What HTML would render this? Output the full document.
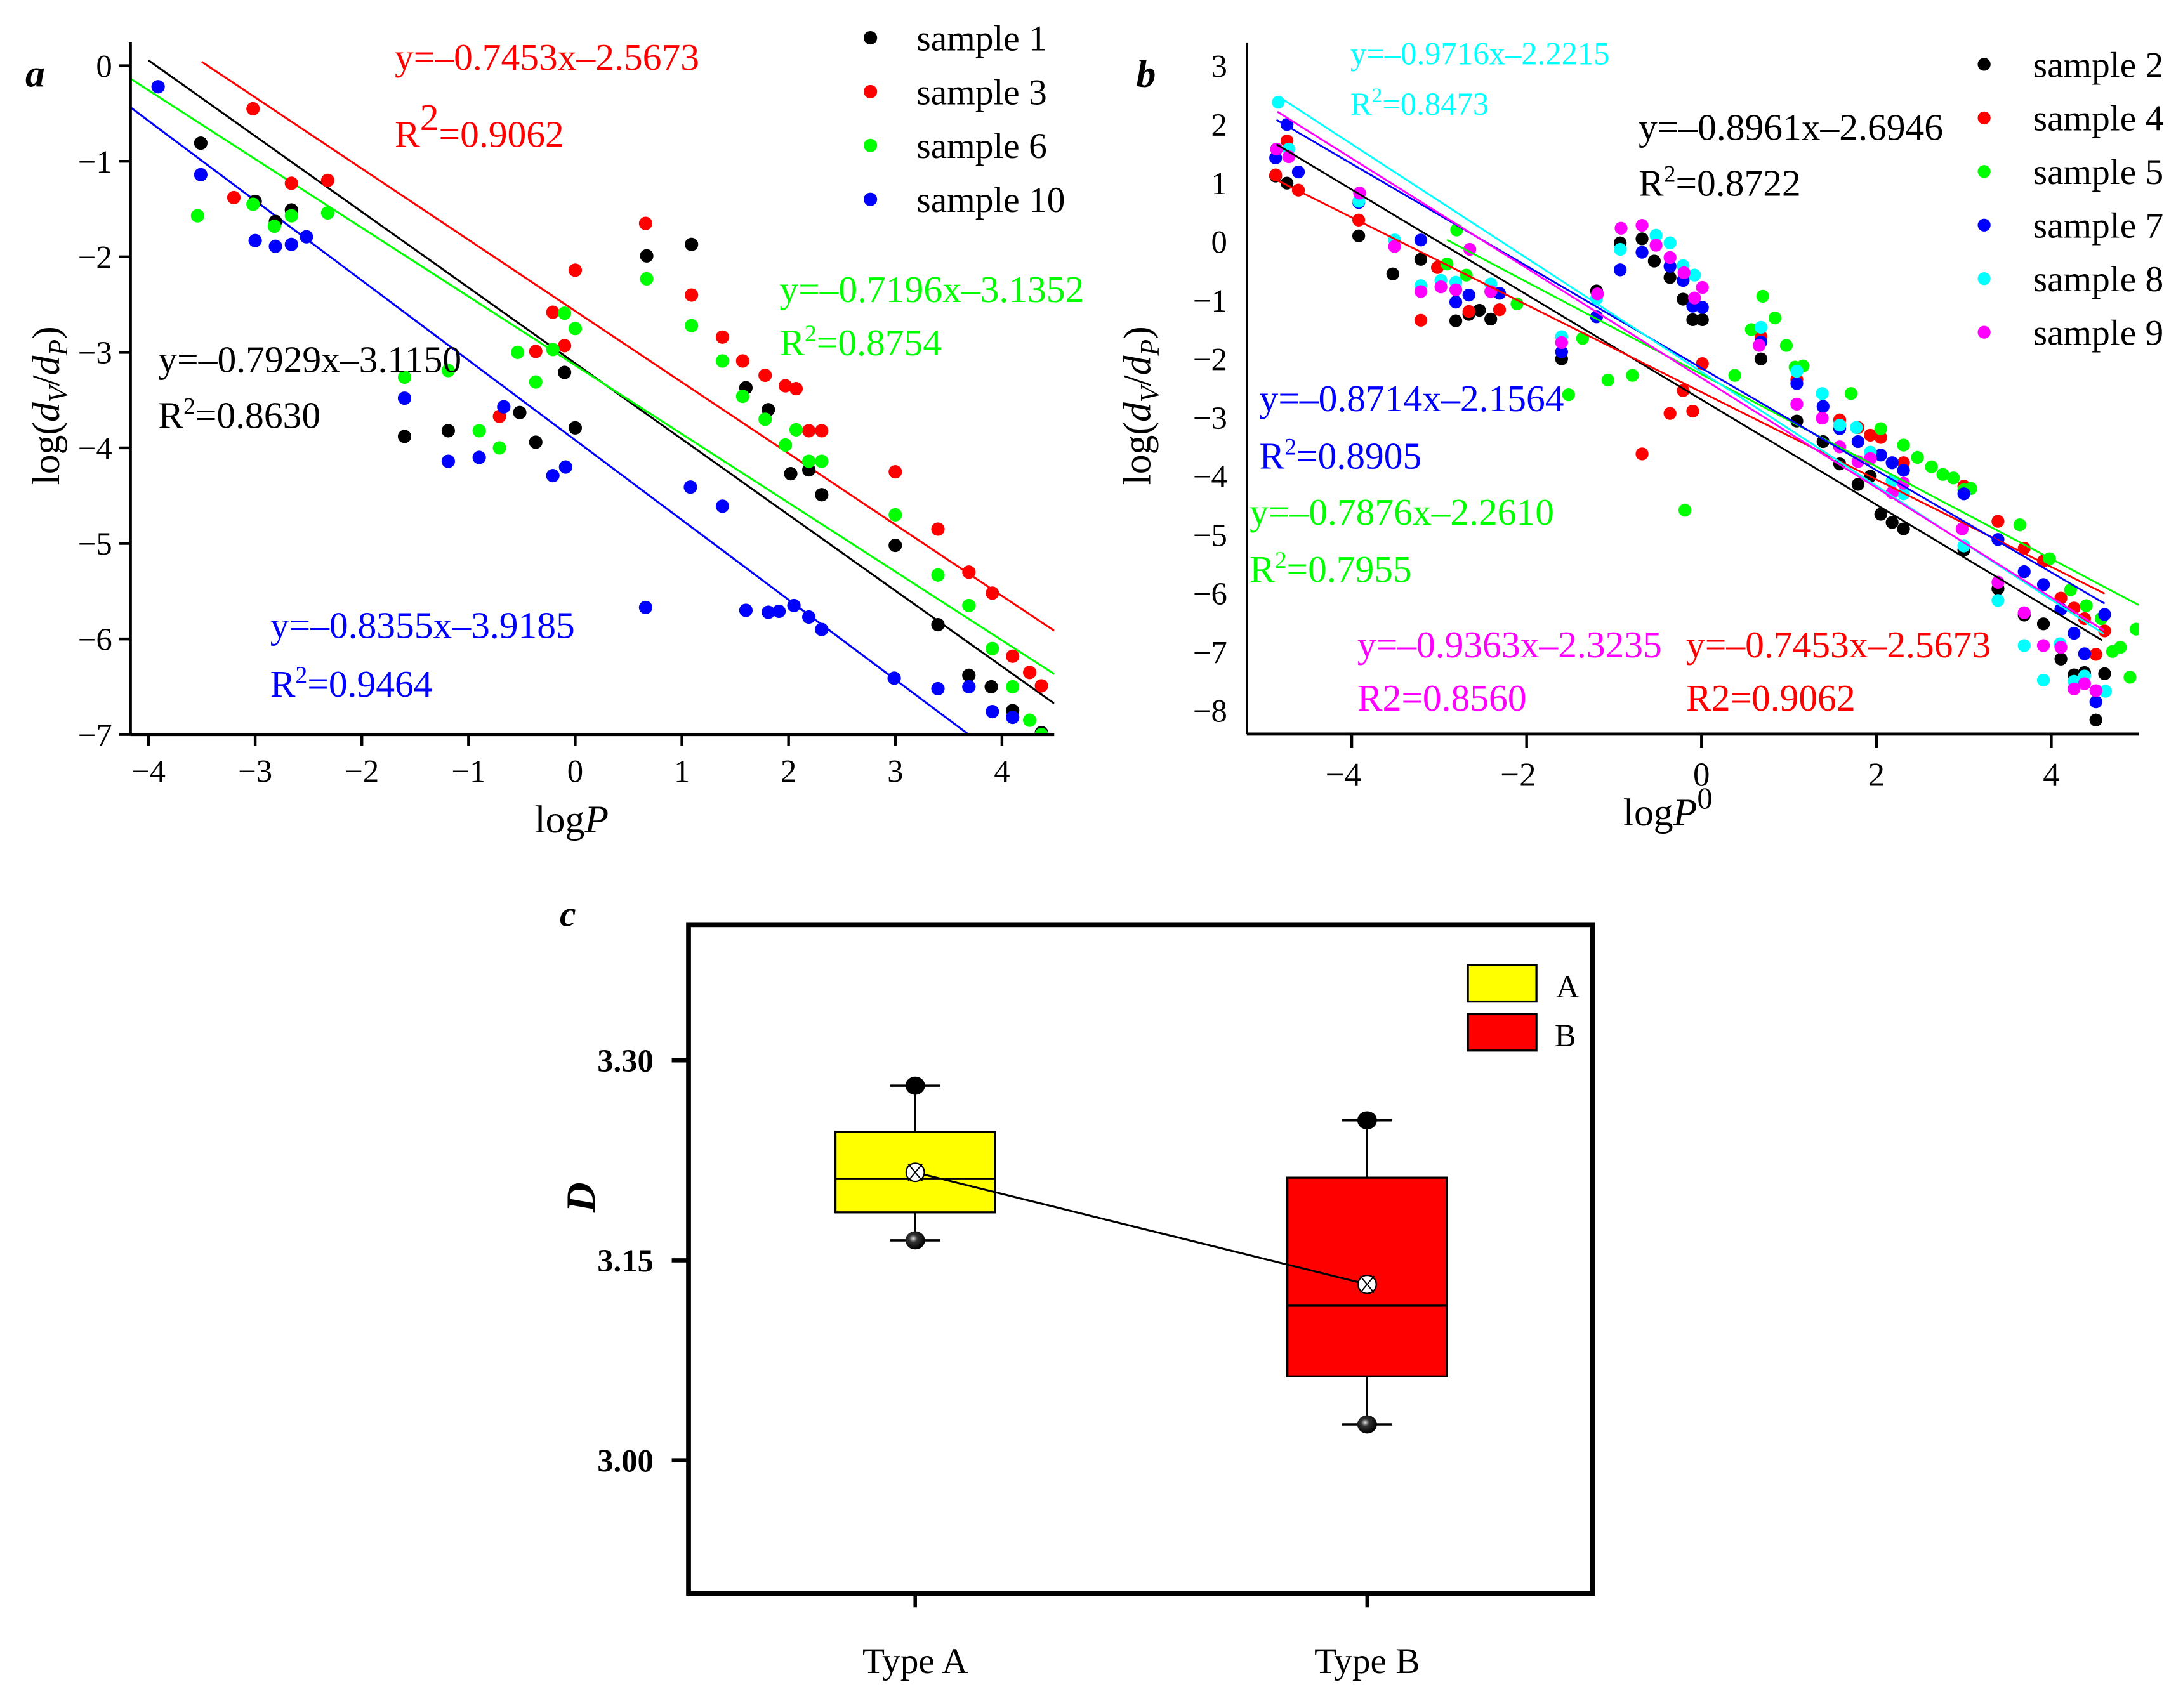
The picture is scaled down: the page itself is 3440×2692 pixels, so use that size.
<!DOCTYPE html>
<html><head><meta charset="utf-8"><style>
html,body{margin:0;padding:0;background:#fff}
svg{display:block;font-family:"Liberation Serif",serif}
</style></head><body>
<svg id="fig" width="3440" height="2692" viewBox="0 0 1560 1221" xmlns="http://www.w3.org/2000/svg">
<g id="pa"></g>
<g id="pb"></g>
<g transform="translate(-3,-4)"><g id="pc"></g></g>
</svg>
<script>
// ---------- Panel a data ----------
const aS1x=[-3.51,-3.0,-2.81,-2.66,-1.6,-1.19,-0.52,-0.37,-0.1,0,0.67,1.09,1.6,1.81,2.02,2.19,2.31,3.0,3.4,3.69,3.9,4.1,4.37];
const aS1y=[-0.81,-1.42,-1.63,-1.51,-3.88,-3.82,-3.63,-3.94,-3.21,-3.79,-1.99,-1.87,-3.37,-3.6,-4.27,-4.23,-4.49,-5.02,-5.85,-6.38,-6.5,-6.75,-6.98];
const aS3x=[-3.02,-3.2,-2.66,-2.32,-0.71,-0.37,-0.21,-0.1,0,0.66,1.09,1.38,1.57,1.78,1.97,2.07,2.19,2.31,3.0,3.4,3.69,3.91,4.1,4.26,4.37];
const aS3y=[-0.45,-1.38,-1.23,-1.2,-3.67,-2.99,-2.58,-2.93,-2.14,-1.65,-2.4,-2.84,-3.09,-3.24,-3.35,-3.38,-3.82,-3.82,-4.25,-4.85,-5.3,-5.52,-6.18,-6.35,-6.49];
const aS6x=[-3.54,-3.02,-2.82,-2.66,-2.32,-1.6,-1.19,-0.9,-0.71,-0.54,-0.37,-0.21,-0.1,0,0.67,1.09,1.38,1.57,1.78,1.97,2.07,2.19,2.31,3,3.4,3.69,3.91,4.1,4.26,4.37];
const aS6y=[-1.57,-1.45,-1.68,-1.57,-1.54,-3.26,-3.19,-3.82,-4.0,-3.0,-3.31,-2.97,-2.59,-2.75,-2.23,-2.72,-3.09,-3.46,-3.7,-3.97,-3.81,-4.14,-4.14,-4.7,-5.33,-5.65,-6.1,-6.5,-6.85,-7.0];
const aS10x=[-3.91,-3.51,-3.0,-2.81,-2.66,-2.52,-1.6,-1.19,-0.9,-0.67,-0.21,-0.09,0.66,1.08,1.38,1.6,1.81,1.91,2.05,2.19,2.31,2.99,3.4,3.69,3.91,4.1];
const aS10y=[-0.22,-1.14,-1.83,-1.89,-1.87,-1.79,-3.48,-4.14,-4.1,-3.57,-4.29,-4.2,-5.67,-4.41,-4.61,-5.7,-5.72,-5.71,-5.65,-5.77,-5.9,-6.41,-6.52,-6.5,-6.76,-6.82];
const aNames=["sample 1","sample 3","sample 6","sample 10"];
const aColors=["#000","#f00","#0f0","#00f"];
const aSlopes=[-0.7929,-0.7453,-0.7196,-0.8355];
const aInter=[-3.1150,-2.5673,-3.1352,-3.9185];
const aXTicks=[-4,-3,-2,-1,0,1,2,3,4];
const aYTicks=[0,-1,-2,-3,-4,-5,-6,-7];
// ---------- Panel b data ----------
const bS2x=[-4.87,-4.74,-3.92,-3.53,-3.21,-2.81,-2.66,-2.54,-2.41,-1.6,-1.2,-0.93,-0.68,-0.54,-0.36,-0.21,-0.1,0.01,0.68,1.09,1.39,1.58,1.79,1.93,2.05,2.18,2.31,3.0,3.39,3.69,3.91,4.11,4.26,4.38,4.51,4.61];
const bS2y=[1.12,1.0,0.10,-0.55,-0.30,-1.35,-1.24,-1.17,-1.32,-2.0,-0.84,-0.02,0.05,-0.33,-0.61,-0.98,-1.33,-1.33,-2.0,-3.06,-3.41,-3.79,-4.14,-4.0,-4.65,-4.79,-4.9,-5.26,-5.92,-6.37,-6.52,-7.12,-7.39,-7.35,-8.16,-7.37];
const bS4x=[-4.87,-4.74,-4.61,-3.92,-3.21,-3.02,-2.66,-2.31,-0.68,-0.36,-0.21,-0.1,0.01,0.68,1.09,1.58,1.79,1.93,2.05,2.31,3.0,3.39,3.69,3.91,4.11,4.26,4.38,4.51,4.61];
const bS4y=[1.14,1.72,0.88,0.37,-1.34,-0.44,-1.19,-1.16,-3.62,-2.93,-2.54,-2.89,-2.08,-1.62,-2.35,-3.04,-3.17,-3.3,-3.34,-3.77,-4.17,-4.77,-5.23,-5.45,-6.08,-6.25,-6.43,-7.04,-6.64];
const bS5x=[-2.8,-2.91,-2.69,-2.11,-1.52,-1.36,-1.07,-0.79,-0.19,0.38,0.57,0.7,0.84,0.97,1.07,1.16,1.71,2.05,2.31,2.47,2.63,2.76,2.88,3.0,3.08,3.64,3.98,4.22,4.4,4.57,4.7,4.79,4.9,4.97];
const bS5y=[0.2,-0.38,-0.57,-1.06,-2.61,-1.65,-2.36,-2.28,-4.58,-2.28,-1.5,-0.93,-1.3,-1.77,-2.14,-2.12,-2.59,-3.19,-3.47,-3.68,-3.84,-3.97,-4.03,-4.23,-4.21,-4.83,-5.41,-5.94,-6.21,-6.43,-6.99,-6.92,-7.43,-6.61];
const bS7x=[-4.87,-4.74,-4.61,-3.92,-3.21,-2.81,-2.66,-2.31,-1.6,-1.2,-0.93,-0.68,-0.36,-0.21,-0.1,0.01,0.68,1.09,1.39,1.58,1.79,2.05,2.18,2.31,3.0,3.39,3.69,3.91,4.11,4.26,4.38,4.51,4.61];
const bS7y=[1.43,2.0,1.19,0.67,0.03,-1.03,-0.91,-0.88,-1.88,-1.28,-0.48,-0.18,-0.42,-0.66,-1.1,-1.12,-1.71,-2.42,-2.81,-3.19,-3.41,-3.64,-3.77,-3.9,-4.3,-5.08,-5.63,-5.85,-6.27,-6.68,-7.03,-7.85,-6.36];
const bS8x=[-4.84,-4.72,-3.92,-3.51,-3.21,-2.98,-2.81,-2.41,-1.6,-1.2,-0.93,-0.52,-0.36,-0.21,-0.08,0.68,1.09,1.38,1.58,1.77,1.93,2.18,2.31,3.0,3.39,3.69,3.91,4.1,4.26,4.38,4.62];
const bS8y=[2.38,1.58,0.69,0.03,-0.75,-0.66,-0.69,-0.72,-1.62,-0.97,-0.13,0.11,-0.02,-0.41,-0.57,-1.46,-2.21,-2.59,-3.13,-3.17,-3.59,-4.08,-4.3,-5.19,-6.12,-6.89,-7.48,-6.86,-7.5,-7.41,-7.67];
const bS9x=[-4.86,-4.72,-3.91,-3.51,-3.21,-2.98,-2.81,-2.65,-2.41,-1.6,-1.19,-0.92,-0.68,-0.52,-0.36,-0.2,-0.08,0.01,0.66,1.09,1.38,1.58,1.79,1.93,2.18,2.31,2.98,3.39,3.69,3.91,4.11,4.26,4.38,4.51];
const bS9y=[1.58,1.45,0.83,-0.08,-0.85,-0.77,-0.82,-0.13,-0.85,-1.72,-0.89,0.23,0.28,-0.06,-0.27,-0.53,-0.96,-0.78,-1.77,-2.77,-3.01,-3.5,-3.75,-3.7,-4.28,-4.12,-4.9,-5.81,-6.33,-6.89,-6.92,-7.63,-7.54,-7.66];
const bNames=["sample 2","sample 4","sample 5","sample 7","sample 8","sample 9"];
const bColors=["#000","#f00","#0f0","#00f","#0ff","#f0f"];
const bSlopes=[-0.8961,-0.7453,-0.7876,-0.8714,-0.9716,-0.9363];
const bInter=[-2.6946,-2.5673,-2.2610,-2.1564,-2.2215,-2.3235];
const bXTicks=[-4,-2,0,2,4];
const bYTicks=[3,2,1,0,-1,-2,-3,-4,-5,-6,-7,-8];
// ---------- Panel c data ----------
const cCats=["Type A","Type B"];
const cMax=[3.281,3.255];
const cQ3=[3.2465,3.212];
const cMed=[3.211,3.116];
const cMean=[3.216,3.132];
const cQ1=[3.186,3.063];
const cMin=[3.165,3.027];
const cFill=["#ffff00","#ff0000"];
const cYTicks=[3.00,3.15,3.30];

const NS="http://www.w3.org/2000/svg";
function mk(parent,tag,attrs,text){const e=document.createElementNS(NS,tag);for(const k in attrs)e.setAttribute(k,attrs[k]);if(text!==undefined)e.textContent=text;parent.appendChild(e);return e;}
const fmt=v=>(v<0?"\u2212"+(-v):""+v);

// ===== Panel a =====
(function(){
const g=document.getElementById('pa');
const X=x=>411+x*76.25, Y=y=>47-y*68.3;
const x0=-4.17,x1=4.49,yb=-7,yt=0.25;
const cp=mk(g,'clipPath',{id:'clipa'});mk(cp,'rect',{x:X(x0),y:Y(yt),width:X(x1)-X(x0),height:Y(yb)-Y(yt)});
const series=[[aS1x,aS1y],[aS3x,aS3y],[aS6x,aS6y],[aS10x,aS10y]];
const xs=[[-4.0,4.49],[-3.5,4.49],[-4.17,4.49],[-4.17,4.49]];
const lg=mk(g,'g',{'clip-path':'url(#clipa)'});

aSlopes.forEach((m,i)=>{const l=mk(lg,'line',{x1:X(xs[i][0]),y1:Y(m*xs[i][0]+aInter[i]),x2:X(xs[i][1]),y2:Y(m*xs[i][1]+aInter[i]),stroke:aColors[i],'stroke-width':1.4});
});
series.forEach((s,i)=>{s[0].forEach((x,j)=>{const c=mk(lg,'circle',{cx:X(x),cy:Y(s[1][j]),r:4.8,fill:aColors[i]});
});});
mk(g,'line',{x1:X(x0),y1:Y(yt),x2:X(x0),y2:Y(yb),stroke:'#000','stroke-width':2.2});
mk(g,'line',{x1:X(x0),y1:Y(yb),x2:X(x1),y2:Y(yb),stroke:'#000','stroke-width':2.2});
aXTicks.forEach(t=>{mk(g,'line',{x1:X(t),y1:Y(yb),x2:X(t),y2:Y(yb)+8,stroke:'#000','stroke-width':2});
const e=mk(g,'text',{x:X(t),y:Y(yb)+34,'text-anchor':'middle','font-size':23},fmt(t));});
aYTicks.forEach(t=>{mk(g,'line',{x1:X(x0),y1:Y(t),x2:X(x0)-8,y2:Y(t),stroke:'#000','stroke-width':2});
const e=mk(g,'text',{x:X(x0)-13,y:Y(t)+8,'text-anchor':'end','font-size':23},fmt(t));});
aNames.forEach((n,i)=>{mk(g,'circle',{cx:622,cy:27+i*38.5,r:4.8,fill:aColors[i]});
const e=mk(g,'text',{x:655,y:36+i*38.5,'font-size':26},n);});
})();

// ===== Panel b =====
(function(){
const g=document.getElementById('pb');
const X=x=>1216+x*62.5, Y=y=>172.8-y*41.9;
const x0=-5.2,x1=5.0,yb=-8.4,yt=3.4;
const cp=mk(g,'clipPath',{id:'clipb'});mk(cp,'rect',{x:X(x0),y:Y(yt),width:X(x1)-X(x0),height:Y(yb)-Y(yt)});
const series=[[bS2x,bS2y],[bS4x,bS4y],[bS5x,bS5y],[bS7x,bS7y],[bS8x,bS8y],[bS9x,bS9y]];
const xs=[[-4.86,4.58],[-4.86,4.61],[-2.91,5.0],[-4.86,4.61],[-4.84,4.6],[-4.85,4.6]];
const lg=mk(g,'g',{'clip-path':'url(#clipb)'});
series.forEach((s,i)=>{s[0].forEach((x,j)=>{const c=mk(lg,'circle',{cx:X(x),cy:Y(s[1][j]),r:4.6,fill:bColors[i]});
});});
bSlopes.forEach((m,i)=>{const l=mk(lg,'line',{x1:X(xs[i][0]),y1:Y(m*xs[i][0]+bInter[i]),x2:X(xs[i][1]),y2:Y(m*xs[i][1]+bInter[i]),stroke:bColors[i],'stroke-width':1.3});
});
mk(g,'line',{x1:X(x0),y1:Y(yt),x2:X(x0),y2:Y(yb),stroke:'#000','stroke-width':1.5});
mk(g,'line',{x1:X(x0),y1:Y(yb),x2:X(x1),y2:Y(yb),stroke:'#000','stroke-width':2.2});
bXTicks.forEach(t=>{mk(g,'line',{x1:X(t),y1:Y(yb),x2:X(t),y2:Y(yb)+10,stroke:'#000','stroke-width':2});
const e=mk(g,'text',{x:X(t)-(t<0?6:0),y:Y(yb)+37,'text-anchor':'middle','font-size':24},fmt(t));});
bYTicks.forEach(t=>{
const e=mk(g,'text',{x:X(x0)-14,y:Y(t)+8,'text-anchor':'end','font-size':23},fmt(t));});
bNames.forEach((n,i)=>{mk(g,'circle',{cx:1418,cy:46+i*38.3,r:4.6,fill:bColors[i]});
const e=mk(g,'text',{x:1453,y:55+i*38.3,'font-size':26},n);});
})();

// ===== Panel c =====
(function(){
const g=document.getElementById('pc');
const Y=v=>762-(v-3.30)*953.3;
const xc=[657,980], hw=57;
const defs=mk(g,'defs',{});
const rg=mk(defs,'radialGradient',{id:'ball',cx:'0.4',cy:'0.4',r:'0.6'});
mk(rg,'stop',{offset:'0','stop-color':'#ddd'});mk(rg,'stop',{offset:'0.35','stop-color':'#333'});mk(rg,'stop',{offset:'1','stop-color':'#000'});
cCats.forEach((c,i)=>{const x=xc[i];
mk(g,'line',{x1:x,y1:Y(cMax[i]),x2:x,y2:Y(cQ3[i]),stroke:'#000','stroke-width':1.3});
mk(g,'line',{x1:x,y1:Y(cQ1[i]),x2:x,y2:Y(cMin[i]),stroke:'#000','stroke-width':1.3});
mk(g,'line',{x1:x-18,y1:Y(cMax[i]),x2:x+18,y2:Y(cMax[i]),stroke:'#000','stroke-width':1.6});
mk(g,'line',{x1:x-18,y1:Y(cMin[i]),x2:x+18,y2:Y(cMin[i]),stroke:'#000','stroke-width':1.6});
const b=mk(g,'rect',{x:x-hw,y:Y(cQ3[i]),width:2*hw,height:Y(cQ1[i])-Y(cQ3[i]),fill:cFill[i],stroke:'#000','stroke-width':1.5});

mk(g,'line',{x1:x-hw,y1:Y(cMed[i]),x2:x+hw,y2:Y(cMed[i]),stroke:'#000','stroke-width':1.5});
mk(g,'ellipse',{cx:x,cy:Y(cMax[i]),rx:7,ry:6.5,fill:'#000'});
mk(g,'ellipse',{cx:x,cy:Y(cMin[i]),rx:7,ry:6.5,fill:'url(#ball)'});
});
mk(g,'line',{x1:xc[0],y1:Y(cMean[0]),x2:xc[1],y2:Y(cMean[1]),stroke:'#000','stroke-width':1.4});
cCats.forEach((c,i)=>{const x=xc[i],y=Y(cMean[i]);
const m=mk(g,'circle',{cx:x,cy:y,r:6.5,fill:'#fff',stroke:'#000','stroke-width':1});

mk(g,'line',{x1:x-5,y1:y-6,x2:x+5,y2:y+6,stroke:'#000','stroke-width':0.9});
mk(g,'line',{x1:x+5,y1:y-6,x2:x-5,y2:y+6,stroke:'#000','stroke-width':0.9});
mk(g,'line',{x1:x,y1:1143,x2:x,y2:1153,stroke:'#000','stroke-width':2.5});
const t=mk(g,'text',{x:x,y:1200,'text-anchor':'middle','font-size':26},c);
});
mk(g,'rect',{x:495,y:665,width:646,height:478,fill:'none',stroke:'#000','stroke-width':3.5});
cYTicks.forEach(t=>{mk(g,'line',{x1:483,y1:Y(t),x2:495,y2:Y(t),stroke:'#000','stroke-width':3});
const e=mk(g,'text',{x:470,y:Y(t)+8,'text-anchor':'end','font-size':23,'font-weight':'bold'},t.toFixed(2));});
})();
</script>
<script>
(function(){
const svg=document.getElementById('fig');
const html=`
<text x="18" y="62" font-size="28" font-weight="bold" font-style="italic">a</text>
<text x="812" y="62" font-size="28" font-weight="bold" font-style="italic">b</text>
<text x="400" y="662" font-size="26" font-weight="bold" font-style="italic">c</text>
<text x="382" y="595" font-size="28">log<tspan font-style="italic">P</tspan></text>
<text x="1160" y="590" font-size="28">log<tspan font-style="italic">P</tspan><tspan dy="-12" font-size="22">0</tspan></text>
<text transform="translate(42,290) rotate(-90)" text-anchor="middle" font-size="28">log(<tspan font-style="italic">d</tspan><tspan font-style="italic" font-size="19" dy="6">V</tspan><tspan dy="-6">/</tspan><tspan font-style="italic">d</tspan><tspan font-style="italic" font-size="19" dy="6">P</tspan><tspan dy="-6">)</tspan></text>
<text transform="translate(822,290) rotate(-90)" text-anchor="middle" font-size="28">log(<tspan font-style="italic">d</tspan><tspan font-style="italic" font-size="19" dy="6">V</tspan><tspan dy="-6">/</tspan><tspan font-style="italic">d</tspan><tspan font-style="italic" font-size="19" dy="6">P</tspan><tspan dy="-6">)</tspan></text>
<text transform="translate(425,856) rotate(-90)" text-anchor="middle" font-size="30" font-weight="bold" font-style="italic">D</text>
<g font-size="27">
<text x="282" y="50" fill="#f00">y=–0.7453x–2.5673</text>
<text x="282" y="105" fill="#f00">R<tspan dy="-12" font-size="27">2</tspan><tspan dy="12">=0.9062</tspan></text>
<text x="557" y="216" fill="#0f0">y=–0.7196x–3.1352</text>
<text x="557" y="254" fill="#0f0">R<tspan dy="-10" font-size="17">2</tspan><tspan dy="10">=0.8754</tspan></text>
<text x="113" y="266" fill="#000">y=–0.7929x–3.1150</text>
<text x="113" y="306" fill="#000">R<tspan dy="-10" font-size="17">2</tspan><tspan dy="10">=0.8630</tspan></text>
<text x="193" y="456" fill="#00f">y=–0.8355x–3.9185</text>
<text x="193" y="498" fill="#00f">R<tspan dy="-10" font-size="17">2</tspan><tspan dy="10">=0.9464</tspan></text>
</g>
<g font-size="27">
<text x="965" y="46" fill="#0ff" font-size="23">y=–0.9716x–2.2215</text>
<text x="965" y="82" fill="#0ff" font-size="23">R<tspan dy="-9" font-size="15">2</tspan><tspan dy="9">=0.8473</tspan></text>
<text x="1171" y="100" fill="#000">y=–0.8961x–2.6946</text>
<text x="1171" y="140" fill="#000">R<tspan dy="-10" font-size="17">2</tspan><tspan dy="10">=0.8722</tspan></text>
<text x="900" y="294" fill="#00f">y=–0.8714x–2.1564</text>
<text x="900" y="335" fill="#00f">R<tspan dy="-10" font-size="17">2</tspan><tspan dy="10">=0.8905</tspan></text>
<text x="893" y="375" fill="#0f0">y=–0.7876x–2.2610</text>
<text x="893" y="416" fill="#0f0">R<tspan dy="-10" font-size="17">2</tspan><tspan dy="10">=0.7955</tspan></text>
<text x="970" y="470" fill="#f0f">y=–0.9363x–2.3235</text>
<text x="970" y="508" fill="#f0f">R2=0.8560</text>
<text x="1205" y="470" fill="#f00">y=–0.7453x–2.5673</text>
<text x="1205" y="508" fill="#f00">R2=0.9062</text>
</g>
<g>
<rect x="1049" y="690" width="49" height="26" fill="#ff0" stroke="#000" stroke-width="1.5"/>
<rect x="1049" y="725" width="49" height="26" fill="#f00" stroke="#000" stroke-width="1.5"/>
<text x="1112" y="713" font-size="23">A</text>
<text x="1111" y="748" font-size="23">B</text>
</g>`;
svg.insertAdjacentHTML('beforeend',html);
})();
</script>
</body></html>
